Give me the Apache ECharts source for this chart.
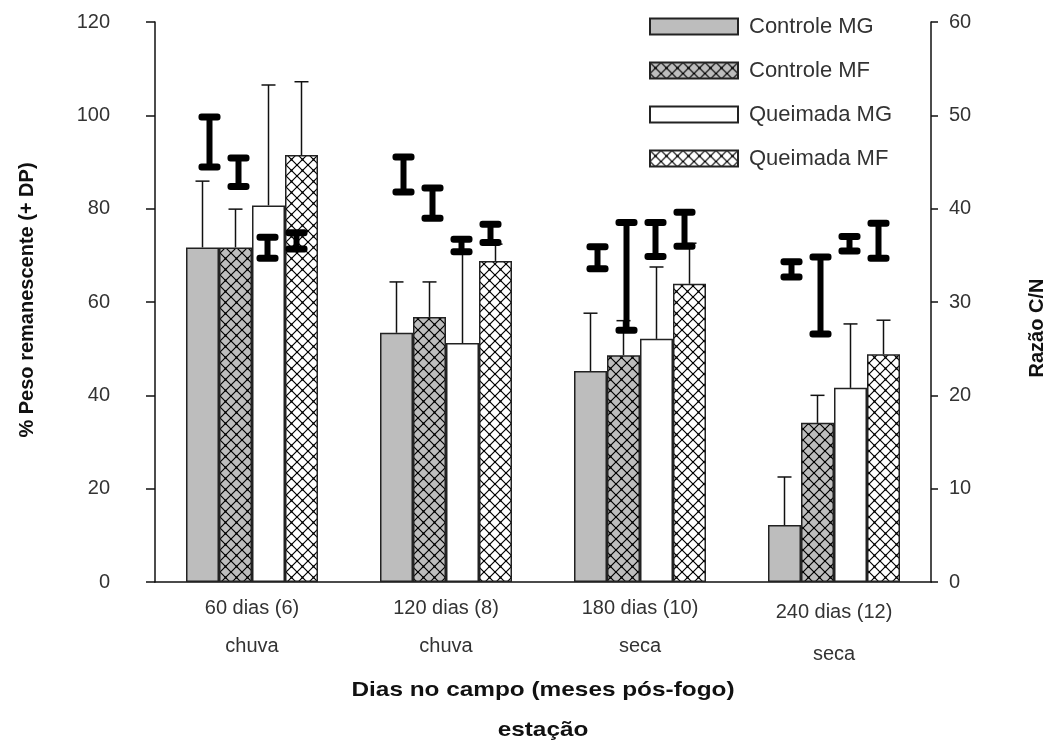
<!DOCTYPE html>
<html>

<head>
    <meta charset="utf-8">
</head>

<body style="height: 100%; margin: 0">
    <div id="container" style="width: 1050px; height: 741px"></div>
    <script type="text/javascript" src="https://cdn.jsdelivr.net/npm/echarts@6/dist/echarts.min.js"></script>
    <script>
        // categorias e estação
        var categories = ['60 dias (6)', '120 dias (8)', '180 dias (10)', '240 dias (12)'];
        var seasons = ['chuva', 'chuva', 'seca', 'seca'];
        var seriesNames = ['Controle MG', 'Controle MF', 'Queimada MG', 'Queimada MF'];

        // % peso remanescente
        var pesoControleMG = [71.7, 53.4, 45.2, 12.2];
        var pesoControleMF = [71.7, 56.8, 48.6, 34.1];
        var pesoQueimadaMG = [80.7, 51.2, 52.1, 41.6];
        var pesoQueimadaMF = [91.5, 68.8, 63.9, 48.8];

        // desvio padrão (+ DP)
        var dpControleMG = [14.2, 10.9, 12.4, 10.3];
        var dpControleMF = [8.2, 7.5, 7.4, 5.9];
        var dpQueimadaMG = [25.8, 19.8, 15.4, 13.7];
        var dpQueimadaMF = [15.7, 3.6, 8.7, 7.3];

        // razão C/N (mínimo, máximo)
        var cnMinControleMG = [44.1, 41.4, 33.2, 32.3];
        var cnMaxControleMG = [50.2, 45.9, 36.3, 34.7];
        var cnMinControleMF = [42.0, 38.6, 26.6, 26.2];
        var cnMaxControleMF = [45.8, 42.6, 38.9, 35.2];
        var cnMinQueimadaMG = [34.3, 35.0, 34.5, 35.1];
        var cnMaxQueimadaMG = [37.3, 37.1, 38.9, 37.4];
        var cnMinQueimadaMF = [35.3, 36.0, 35.6, 34.3];
        var cnMaxQueimadaMF = [37.8, 38.7, 40.0, 38.8];

        var leftTicks = [0, 20, 40, 60, 80, 100, 120];
        var rightTicks = [0, 10, 20, 30, 40, 50, 60];

        var FONT = 'Liberation Sans';

        function makeHatch(bg) {
            var c = document.createElement('canvas');
            c.width = 11; c.height = 11;
            var g = c.getContext('2d');
            g.fillStyle = bg;
            g.fillRect(0, 0, 11, 11);
            g.strokeStyle = '#000';
            g.lineWidth = 1.2;
            g.beginPath();
            g.moveTo(0, 0); g.lineTo(11, 11);
            g.moveTo(11, 0); g.lineTo(0, 11);
            g.stroke();
            g.fillStyle = '#000';
            g.fillRect(4.5, 4.5, 2, 2);
            g.fillRect(0, 0, 1, 1); g.fillRect(10, 0, 1, 1);
            g.fillRect(0, 10, 1, 1); g.fillRect(10, 10, 1, 1);
            return c;
        }

        var colors = [
            '#bdbdbd',
            { image: makeHatch('#bdbdbd'), repeat: 'repeat' },
            '#ffffff',
            { image: makeHatch('#ffffff'), repeat: 'repeat' }
        ];
        var pesos = [pesoControleMG, pesoControleMF, pesoQueimadaMG, pesoQueimadaMF];
        var dps = [dpControleMG, dpControleMF, dpQueimadaMG, dpQueimadaMF];
        var cnMins = [cnMinControleMG, cnMinControleMF, cnMinQueimadaMG, cnMinQueimadaMF];
        var cnMaxs = [cnMaxControleMG, cnMaxControleMF, cnMaxQueimadaMG, cnMaxQueimadaMF];

        var BAR_W = 33;
        var CN_STEP = 29;

        function dpRender(k) {
            return function (params, api) {
                var i = api.value(0);
                var base = api.coord([i, api.value(1)]);
                var top = api.coord([i, api.value(2)]);
                var x = base[0] + (k - 1.5) * BAR_W;
                var st = { stroke: '#111', lineWidth: 1.5 };
                return {
                    type: 'group',
                    children: [
                        { type: 'line', shape: { x1: x, y1: base[1], x2: x, y2: top[1] }, style: st },
                        { type: 'line', shape: { x1: x - 7, y1: top[1], x2: x + 7, y2: top[1] }, style: st }
                    ]
                };
            };
        }

        function cnRender(k) {
            return function (params, api) {
                var i = api.value(0);
                var lo = api.coord([i, api.value(1)]);
                var hi = api.coord([i, api.value(2)]);
                var x = lo[0] + (k - 1.5) * CN_STEP + 1;
                var st = { fill: '#000' };
                return {
                    type: 'group',
                    children: [
                        { type: 'rect', shape: { x: x - 3, y: hi[1] + 2, width: 6, height: lo[1] - hi[1] - 4 }, style: st },
                        { type: 'rect', shape: { x: x - 11, y: hi[1], width: 22, height: 7, r: 3 }, style: st },
                        { type: 'rect', shape: { x: x - 11, y: lo[1] - 7, width: 22, height: 7, r: 3 }, style: st }
                    ]
                };
            };
        }

        var series = [];
        seriesNames.forEach(function (name, k) {
            series.push({
                name: name,
                type: 'bar',
                data: pesos[k],
                barWidth: BAR_W,
                barGap: '0%',
                itemStyle: { color: colors[k], borderColor: '#222', borderWidth: 1.5 },
                emphasis: { disabled: true },
                z: 2
            });
        });
        seriesNames.forEach(function (name, k) {
            series.push({
                type: 'custom',
                renderItem: dpRender(k),
                data: categories.map(function (c, i) { return [i, pesos[k][i], pesos[k][i] + dps[k][i]]; }),
                silent: true,
                z: 3
            });
        });
        seriesNames.forEach(function (name, k) {
            series.push({
                type: 'custom',
                yAxisIndex: 1,
                renderItem: cnRender(k),
                data: categories.map(function (c, i) { return [i, cnMins[k][i], cnMaxs[k][i]]; }),
                silent: true,
                z: 4
            });
        });

        var dom = document.getElementById('container');
        var myChart = echarts.init(dom);
        var option = {
            backgroundColor: '#ffffff',
            animation: false,
            grid: { left: 155, right: 119, top: 22, bottom: 159, outerBoundsMode: 'none' },
            legend: {
                data: seriesNames,
                orient: 'vertical',
                left: 649,
                top: 15,
                padding: 0,
                icon: 'rect',
                itemWidth: 88,
                itemHeight: 16,
                itemGap: 21,
                textStyle: { fontFamily: FONT, fontSize: 22, color: '#333', padding: [0, 0, 0, 6], lineHeight: 23 }
            },
            xAxis: {
                type: 'category',
                data: categories,
                axisLine: { lineStyle: { color: '#111', width: 1.5 } },
                axisTick: { alignWithLabel: true, length: 8, lineStyle: { color: '#111', width: 1.5 } },
                axisLabel: {
                    margin: 7,
                    fontFamily: FONT,
                    fontSize: 20,
                    color: '#333',
                    formatter: function (v, i) {
                        if (i === 3) return '{b|' + v + '}\n{c|' + seasons[i] + '}';
                        return '{a|' + v + '}\n{a|' + seasons[i] + '}';
                    },
                    rich: {
                        a: { fontFamily: FONT, fontSize: 20, color: '#333', lineHeight: 38 },
                        b: { fontFamily: FONT, fontSize: 20, color: '#333', lineHeight: 46 },
                        c: { fontFamily: FONT, fontSize: 20, color: '#333', lineHeight: 38 }
                    }
                }
            },
            yAxis: [{
                type: 'value',
                min: 0, max: 120, interval: 20,
                splitLine: { show: false },
                axisLine: { show: true, lineStyle: { color: '#111', width: 1.5 } },
                axisTick: { show: true, length: 9, lineStyle: { color: '#111', width: 1.5 } },
                axisLabel: {
                    margin: 45, fontFamily: FONT, fontSize: 20, color: '#333',
                    formatter: function (v) { return leftTicks.indexOf(v) >= 0 ? String(v) : ''; }
                }
            }, {
                type: 'value',
                position: 'right',
                min: 0, max: 60, interval: 10,
                splitLine: { show: false },
                axisLine: { show: true, lineStyle: { color: '#111', width: 1.5 } },
                axisTick: { show: true, length: 7, lineStyle: { color: '#111', width: 1.5 } },
                axisLabel: {
                    margin: 18, fontFamily: FONT, fontSize: 20, color: '#333',
                    formatter: function (v) { return rightTicks.indexOf(v) >= 0 ? String(v) : ''; }
                }
            }],
            graphic: [{
                type: 'text',
                x: 27, y: 300,
                rotation: Math.PI / 2,
                style: { text: '% Peso remanescente (+ DP)', font: 'bold 20px ' + FONT, fill: '#111', textAlign: 'center', textVerticalAlign: 'middle' }
            }, {
                type: 'text',
                x: 1037, y: 328,
                rotation: Math.PI / 2,
                style: { text: 'Razão C/N', font: 'bold 20px ' + FONT, fill: '#111', textAlign: 'center', textVerticalAlign: 'middle' }
            }, {
                type: 'text',
                x: 543, y: 690,
                scaleX: 1.16,
                style: { text: 'Dias no campo (meses pós-fogo)', font: 'bold 21px ' + FONT, fill: '#111', textAlign: 'center', textVerticalAlign: 'middle' }
            }, {
                type: 'text',
                x: 543, y: 730,
                scaleX: 1.16,
                style: { text: 'estação', font: 'bold 21px ' + FONT, fill: '#111', textAlign: 'center', textVerticalAlign: 'middle' }
            }],
            series: series
        };
        myChart.setOption(option);
    </script>

</body>

</html>
